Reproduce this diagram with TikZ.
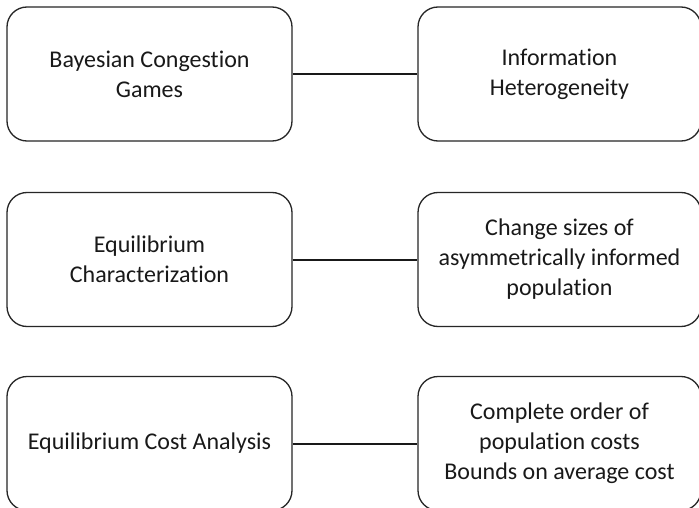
\documentclass[tikz,border=0pt]{standalone}
\usepackage{fontspec}
\setmainfont{Carlito}[Ligatures={NoCommon}]
\begin{document}
\begin{tikzpicture}[x=1pt,y=-1pt,
  topicbox/.style={draw=black!85, line width=1.3pt, rounded corners=20pt,
    minimum height=134pt, align=center, text=black!90,
    font=\fontsize{24}{30}\selectfont, inner sep=0pt},
  leftbox/.style={topicbox, minimum width=285pt},
  rightbox/.style={topicbox, minimum width=283pt},
  link/.style={draw=black!90, line width=2pt}]
\useasboundingbox (0,0) rectangle (699,508);
\fill[white] (0,0) rectangle (699,508);
\node[leftbox] (a1) at (149.5,74) {Bayesian Congestion\\Games};
\node[rightbox] (b1) at (559.5,74) {Information\\Heterogeneity};
\node[leftbox] (a2) at (149.5,259.5) {Equilibrium\\Characterization};
\node[rightbox] (b2) at (559.5,259.5) {Change sizes of\\asymmetrically informed\\population};
\node[leftbox] (a3) at (149.5,443.5) {Equilibrium Cost Analysis};
\node[rightbox] (b3) at (559.5,443.5) {Complete order of\\population costs\\Bounds on average cost};
\draw[link] (a1) -- (b1);
\draw[link] (a2) -- (b2);
\draw[link] (a3) -- (b3);
\end{tikzpicture}
\end{document}
